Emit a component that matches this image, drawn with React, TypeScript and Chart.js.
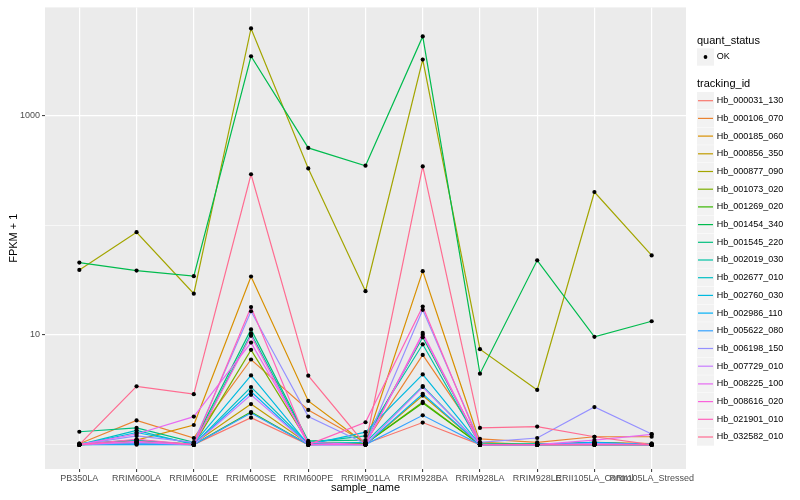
import React, { useEffect, useRef } from "react";
import { Chart, registerables } from "chart.js";

Chart.register(...registerables);

const FONT = '"Liberation Sans", Arial, Helvetica, sans-serif';

const categories = [
  "PB350LA", "RRIM600LA", "RRIM600LE", "RRIM600SE", "RRIM600PE", "RRIM901LA",
  "RRIM928BA", "RRIM928LA", "RRIM928LE", "RRII105LA_Control", "RRII105LA_Stressed",
];

const trackingIds = [
  "Hb_000031_130", "Hb_000106_070", "Hb_000185_060", "Hb_000856_350", "Hb_000877_090",
  "Hb_001073_020", "Hb_001269_020", "Hb_001454_340", "Hb_001545_220", "Hb_002019_030",
  "Hb_002677_010", "Hb_002760_030", "Hb_002986_110", "Hb_005622_080", "Hb_006198_150",
  "Hb_007729_010", "Hb_008225_100", "Hb_008616_020", "Hb_021901_010", "Hb_032582_010",
];

const seriesColors = [
  "#F8766D", "#EA8331", "#D89000", "#C09B00", "#A3A500", "#7CAE00", "#39B600",
  "#00BB4E", "#00BF7D", "#00C1A3", "#00BFC4", "#00BAE0", "#00B0F6", "#35A2FF",
  "#9590FF", "#C77CFF", "#E76BF3", "#FA62DB", "#FF62BC", "#FF6C91",
];

// FPKM + 1 values, one array per tracking_id, in category order
const hb000031_130 = [1.0, 1.02, 1.0, 1.76, 1.0, 1.02, 1.59, 1.0, 1.0, 1.0, 1.0];
const hb000106_070 = [1.02, 1.66, 1.15, 5.96, 2.07, 1.05, 6.56, 1.13, 1.05, 1.18, 1.18];
const hb000185_060 = [1.0, 1.1, 1.51, 34, 2.5, 1.02, 38, 1.05, 1.0, 1.05, 1.02];
const hb000856_350 = [1.0, 1.05, 1.02, 2.34, 1.02, 1.0, 2.8, 1.0, 1.0, 1.0, 1.0];
const hb000877_090 = [39, 86, 23.7, 6170, 328, 25, 3215, 7.4, 3.15, 200, 52.9];
const hb001073_020 = [1.0, 1.08, 1.0, 7.3, 1.05, 1.02, 2.45, 1.0, 1.0, 1.02, 1.0];
const hb001269_020 = [1.0, 1.05, 1.0, 1.98, 1.0, 1.02, 2.39, 1.0, 1.0, 1.0, 1.0];
const hb001454_340 = [45.5, 38.5, 34.2, 3445, 504, 347, 5220, 4.43, 47.7, 9.6, 13.3];
const hb001545_220 = [1.31, 1.42, 1.05, 11.2, 1.08, 1.1, 9.5, 1.02, 1.0, 1.05, 1.0];
const hb002019_030 = [1.02, 1.1, 1.0, 10.3, 1.05, 1.2, 8.2, 1.0, 1.02, 1.0, 1.0];
const hb002677_010 = [1.0, 1.35, 1.0, 3.35, 1.02, 1.05, 3.42, 1.0, 1.0, 1.02, 1.02];
const hb002760_030 = [1.0, 1.29, 1.02, 4.27, 1.0, 1.3, 4.36, 1.0, 1.0, 1.0, 1.0];
const hb002986_110 = [1.0, 1.0, 1.0, 3.05, 1.0, 1.0, 2.9, 1.0, 1.0, 1.05, 1.0];
const hb005622_080 = [1.0, 1.02, 1.0, 1.94, 1.0, 1.0, 1.85, 1.0, 1.0, 1.0, 1.0];
const hb006198_150 = [1.0, 1.2, 1.05, 16.4, 1.8, 1.02, 16.9, 1.05, 1.15, 2.2, 1.25];
const hb007729_010 = [1.0, 1.05, 1.0, 2.84, 1.0, 1.0, 3.35, 1.0, 1.0, 1.02, 1.0];
const hb008225_100 = [1.0, 1.25, 1.8, 8.5, 1.05, 1.0, 10.0, 1.0, 1.0, 1.1, 1.24];
const hb008616_020 = [1.0, 1.07, 1.0, 9.8, 1.0, 1.0, 10.4, 1.0, 1.0, 1.0, 1.0];
const hb021901_010 = [1.0, 1.12, 1.0, 17.9, 1.0, 1.6, 18.1, 1.0, 1.0, 1.0, 1.0];
const hb032582_010 = [1.0, 3.4, 2.88, 290, 4.25, 1.0, 342, 1.42, 1.46, 1.18, 1.0];

const seriesValues = [
  hb000031_130, hb000106_070, hb000185_060, hb000856_350, hb000877_090,
  hb001073_020, hb001269_020, hb001454_340, hb001545_220, hb002019_030,
  hb002677_010, hb002760_030, hb002986_110, hb005622_080, hb006198_150,
  hb007729_010, hb008225_100, hb008616_020, hb021901_010, hb032582_010,
];

const yGridValues = [1, 10, 100, 1000];
const yTickLabels = ["", "10", "", "1000"];
const yMajor = [false, true, false, true];
const statusLevels = ["OK"];

const panelPlugin = {
  id: "ggPanel",
  beforeDraw(chart: any) {
    const { ctx, chartArea, width, height } = chart;
    ctx.save();
    ctx.fillStyle = "#FFFFFF";
    ctx.fillRect(0, 0, width, height);
    ctx.fillStyle = "#EBEBEB";
    ctx.fillRect(chartArea.left, chartArea.top, chartArea.right - chartArea.left, chartArea.bottom - chartArea.top);
    ctx.restore();
  },
};

const legendPlugin = {
  id: "ggLegend",
  afterDraw(chart: any) {
    const { ctx, chartArea } = chart;
    const x0 = chartArea.right + 11;
    const keyW = 17;
    const keyH = 17.3;
    const textX = x0 + 19.7;
    ctx.save();
    ctx.textAlign = "left";
    ctx.textBaseline = "middle";
    ctx.fillStyle = "#000000";
    ctx.font = `11px ${FONT}`;
    ctx.fillText("quant_status", x0, 40.5);
    statusLevels.forEach((lvl, i) => {
      const cy = 57 + i * 17.7;
      ctx.fillStyle = "#F2F2F2";
      ctx.fillRect(x0, cy - keyH / 2, keyW, keyH);
      ctx.fillStyle = "#000000";
      ctx.beginPath();
      ctx.arc(x0 + keyW / 2, cy, 1.9, 0, Math.PI * 2);
      ctx.fill();
      ctx.font = `9px ${FONT}`;
      ctx.fillText(lvl, textX, cy);
    });
    ctx.font = `11px ${FONT}`;
    ctx.fillStyle = "#000000";
    ctx.fillText("tracking_id", x0, 84.3);
    trackingIds.forEach((id, i) => {
      const cy = 100.7 + i * 17.7;
      ctx.fillStyle = "#F2F2F2";
      ctx.fillRect(x0, cy - keyH / 2, keyW, keyH);
      ctx.strokeStyle = seriesColors[i];
      ctx.lineWidth = 1.2;
      ctx.beginPath();
      ctx.moveTo(x0 + 1, cy);
      ctx.lineTo(x0 + keyW - 1, cy);
      ctx.stroke();
      ctx.fillStyle = "#000000";
      ctx.font = `9px ${FONT}`;
      ctx.fillText(id, textX, cy);
    });
    ctx.restore();
  },
};

export default function App() {
  const canvasRef = useRef<HTMLCanvasElement | null>(null);

  useEffect(() => {
    if (!canvasRef.current) return;
    Chart.defaults.font.family = FONT;

    const lineDatasets: any[] = trackingIds.map((id, i) => ({
      type: "line",
      label: id,
      data: seriesValues[i].map((v, j) => ({ x: j, y: v })),
      borderColor: seriesColors[i],
      backgroundColor: seriesColors[i],
      borderWidth: 1.2,
      pointRadius: 0,
      fill: false,
      tension: 0,
      order: 100 - i,
    }));

    const allPoints: { x: number; y: number }[] = [];
    seriesValues.forEach((vals) => vals.forEach((v, j) => allPoints.push({ x: j, y: v })));

    const pointDataset: any = {
      type: "line",
      label: statusLevels[0],
      data: allPoints,
      showLine: false,
      pointRadius: 2.1,
      pointBackgroundColor: "#000000",
      pointBorderWidth: 0,
      pointBorderColor: "#000000",
      order: 0,
    };

    const chart = new Chart(canvasRef.current, {
      type: "line",
      data: { datasets: [...lineDatasets, pointDataset] },
      plugins: [panelPlugin, legendPlugin],
      options: {
        animation: false,
        responsive: true,
        maintainAspectRatio: false,
        events: [],
        layout: { padding: { top: 5, right: 114, left: 0, bottom: 0 } },
        plugins: {
          legend: { display: false },
          tooltip: { enabled: false },
          title: { display: false },
        },
        scales: {
          x: {
            type: "linear",
            min: -0.6,
            max: 10.6,
            afterBuildTicks: (scale: any) => {
              scale.ticks = categories.map((_, i) => ({ value: i }));
            },
            afterFit: (scale: any) => {
              scale.height = 31;
            },
            ticks: {
              callback: (v: any) => categories[Math.round(Number(v))] ?? "",
              autoSkip: false,
              maxRotation: 0,
              minRotation: 0,
              color: "#4D4D4D",
              font: { size: 9, family: FONT },
              padding: 1,
            },
            grid: {
              color: "#FFFFFF",
              lineWidth: 1.2,
              tickLength: 3,
              tickColor: "#333333",
              tickWidth: 1,
            },
            border: { display: false },
            title: {
              display: true,
              text: "sample_name",
              color: "#000000",
              font: { size: 11, family: FONT },
              padding: { top: 0, bottom: 5 },
            },
          },
          y: {
            type: "logarithmic",
            min: 0.634,
            max: 9594,
            afterBuildTicks: (scale: any) => {
              scale.ticks = yGridValues.map((v) => ({ value: v }));
            },
            afterFit: (scale: any) => {
              scale.width = 45;
            },
            ticks: {
              callback: (_v: any, index: number) => yTickLabels[index] ?? "",
              autoSkip: false,
              color: "#4D4D4D",
              font: { size: 9, family: FONT },
              padding: 2,
            },
            grid: {
              color: "#FFFFFF",
              lineWidth: (c: any) => (yMajor[c.index] ? 1.2 : 0.6),
              tickLength: 3,
              tickColor: (c: any) => (yMajor[c.index] ? "#333333" : "rgba(0,0,0,0)"),
              tickWidth: 1,
            },
            border: { display: false },
            title: {
              display: true,
              text: "FPKM + 1",
              color: "#000000",
              font: { size: 11, family: FONT },
              padding: { top: 7, bottom: 0 },
            },
          },
        },
      } as any,
    });

    return () => chart.destroy();
  }, []);

  return (
    <div style={{ position: "absolute", left: 0, top: 0, width: 800, height: 500, background: "#FFFFFF" }}>
      <canvas ref={canvasRef} />
    </div>
  );
}
